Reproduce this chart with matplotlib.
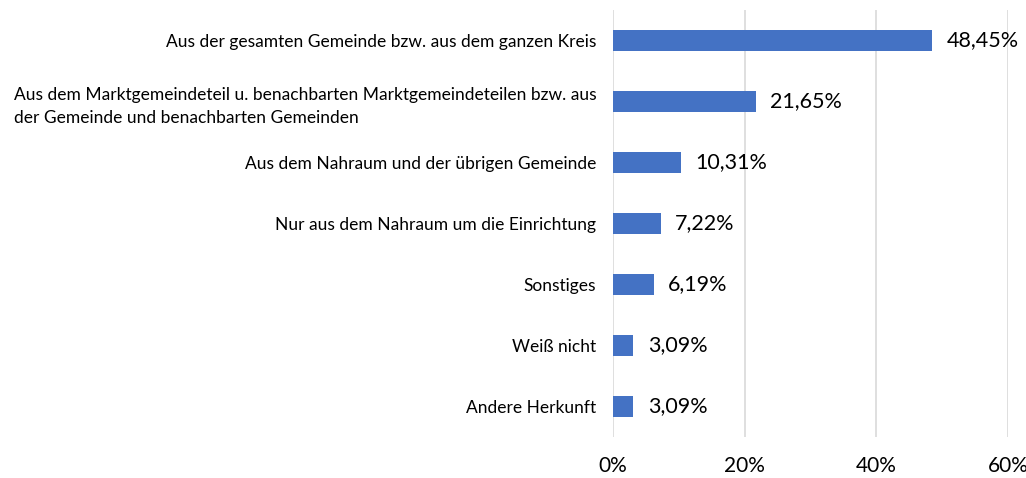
import matplotlib
matplotlib.use('Agg')
import matplotlib.pyplot as plt
from matplotlib.ticker import FuncFormatter

plt.rcParams['font.family'] = ['Lato', 'DejaVu Sans']

categories = [
    'Aus der gesamten Gemeinde bzw. aus dem ganzen Kreis',
    'Aus dem Marktgemeindeteil u. benachbarten Marktgemeindeteilen bzw. aus\nder Gemeinde und benachbarten Gemeinden',
    'Aus dem Nahraum und der übrigen Gemeinde',
    'Nur aus dem Nahraum um die Einrichtung',
    'Sonstiges',
    'Weiß nicht',
    'Andere Herkunft',
]
values = [48.45, 21.65, 10.31, 7.22, 6.19, 3.09, 3.09]
value_labels = ['48,45%', '21,65%', '10,31%', '7,22%', '6,19%', '3,09%', '3,09%']
x_ticks = [0, 20, 40, 60]

fig = plt.figure(figsize=(10.26, 4.78), dpi=100)
ax = fig.add_axes([613 / 1026, 41 / 478, 395 / 1026, 427 / 478])

pos = list(range(len(categories)))[::-1]
bars = ax.barh(pos, values, height=0.36, color='#4472C4', zorder=3)

for bar, lab in zip(bars, value_labels):
    ax.text(bar.get_width() + 2.2, bar.get_y() + bar.get_height() / 2, lab,
            ha='left', va='center', fontsize=15.5, color='#000000')

ax.set_xlim(0, 60)
ax.set_ylim(-0.5, 6.5)
ax.set_xticks(x_ticks)
ax.xaxis.set_major_formatter(FuncFormatter(lambda v, p: f'{int(v)}%'))
ax.set_yticks(pos)
ax.set_yticklabels(categories, fontsize=12.5, multialignment='left', linespacing=1.55)
ax.tick_params(axis='x', length=0, labelsize=15, pad=14)
ax.tick_params(axis='y', length=0, pad=12)
ax.grid(axis='x', color='#D9D9D9', linewidth=1.2, zorder=0)
for s in ax.spines.values():
    s.set_visible(False)

fig.savefig('out.png', dpi=100)
